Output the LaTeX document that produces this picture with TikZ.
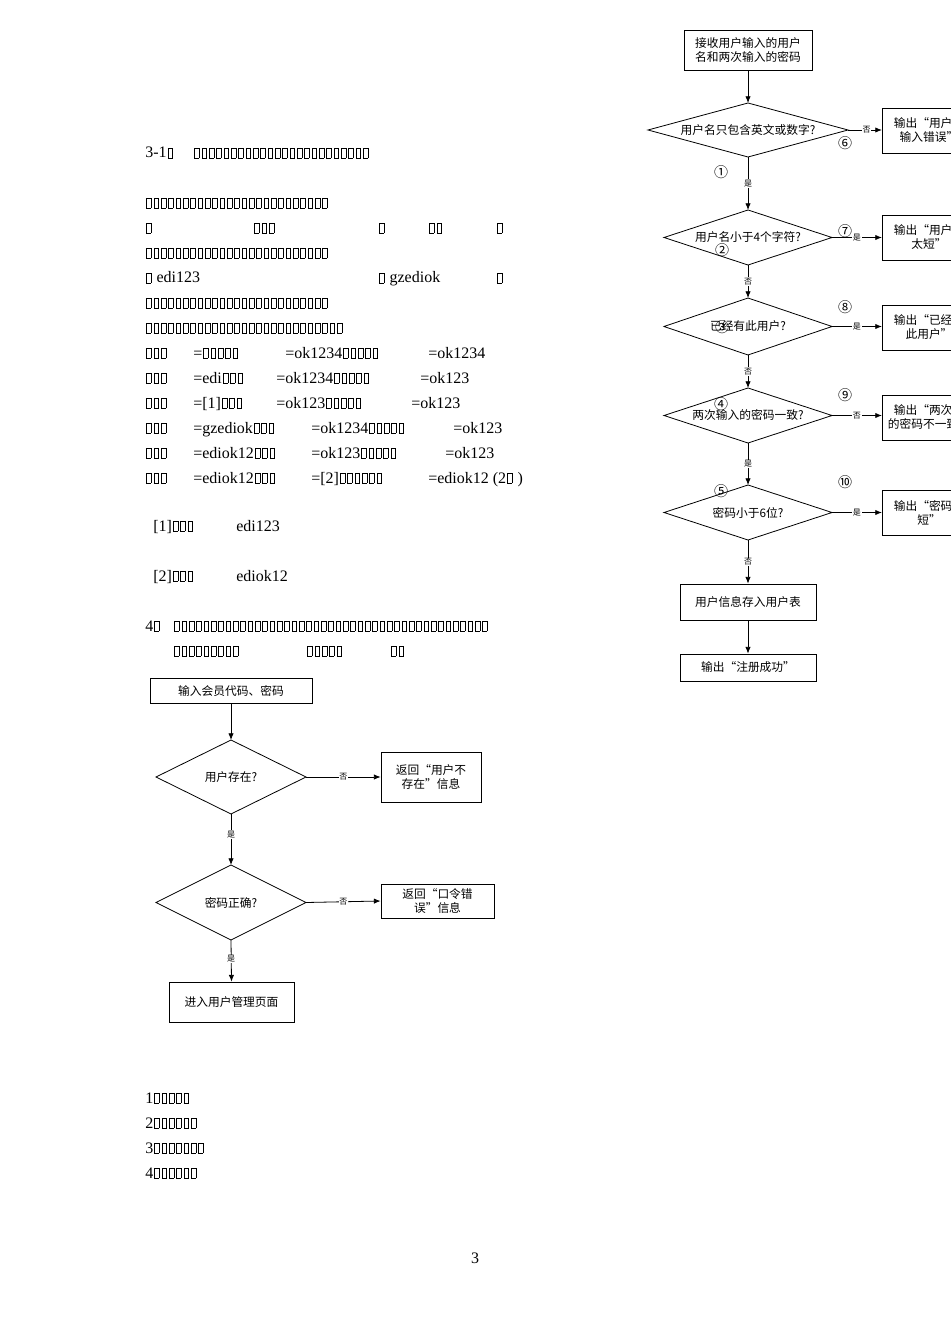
\documentclass[tikz,border=0pt]{standalone}
\usepackage{fontspec}
\setmainfont{Liberation Serif}
\newfontfamily\cjk{Noto Sans CJK SC}
\usetikzlibrary{arrows.meta}
\newcommand\tofu{\kern0.9pt\begingroup\setlength\fboxsep{0pt}\setlength\fboxrule{0.35pt}\fbox{\rule{0pt}{7.5pt}\kern3pt}\endgroup\kern0.9pt}
\newcommand\tofus[1]{\foreach\i in{1,...,#1}{\tofu}}
\newcommand\mydia[6]{%
 \coordinate (#1n) at (#2,{#3-#5});\coordinate (#1s) at (#2,{#3+#5});
 \coordinate (#1w) at ({#2-#4},#3);\coordinate (#1e) at ({#2+#4},#3);
 \draw[ln] (#1n)--(#1e)--(#1s)--(#1w)--cycle;
 \node[ft] (#1) at (#2,#3) {#6};}
\begin{document}
\begin{tikzpicture}[x=0.75pt,y=-0.75pt,
 tx/.style={anchor=base west,inner sep=0pt,font=\fontsize{12}{14}\selectfont},
 ft/.style={font=\cjk\fontsize{8.8}{10.5}\selectfont,inner sep=0pt,align=center},
 ln/.style={line width=0.6pt},
 bx/.style={draw,line width=0.6pt,font=\cjk\fontsize{8.8}{10.5}\selectfont,inner sep=0pt,align=center},
 arr/.style={ln,-{Latex[length=5pt,width=4pt]}},
 lbl/.style={fill=white,font=\cjk\fontsize{6}{7}\selectfont,inner sep=0.5pt},
 cn/.style={font=\cjk\fontsize{10.5}{10.5}\selectfont,inner sep=0pt}]
\useasboundingbox[fill=white] (0,0) rectangle (950,1344);
% ---- text block
\node[tx] (t1) at (145,158) {3-1\tofu};
\node[tx] (t1b) at (193,158) {\tofus{24}};
\node[tx] (t2) at (145,208) {\tofus{25}};
\node[tx] (t3a) at (145,233) {\tofus{1}};
\node[tx] (t3b) at (253,233) {\tofus{3}};
\node[tx] (t3c) at (378,233) {\tofus{1}};
\node[tx] (t3d) at (428,233) {\tofus{2}};
\node[tx] (t3e) at (496,233) {\tofus{1}};
\node[tx] (t4) at (145,258) {\tofus{25}};
\node[tx] (t5a) at (145,283) {\tofu\ edi123};
\node[tx] (t5b) at (378,283) {\tofu\ gzediok};
\node[tx] (t5c) at (496,283) {\tofu};
\node[tx] (t6) at (145,308) {\tofus{25}};
\node[tx] (t7) at (145,333) {\tofus{27}};
\foreach \yy in {358,383,408,433,458,483}{\node[tx] at (145,\yy) {\tofus{3}};}
\node[tx] at (193,358) {=\tofus{5}};
\node[tx] at (285,358) {=ok1234\tofus{5}};
\node[tx] at (428,358) {=ok1234};
\node[tx] at (193,383) {=edi\tofus{3}};
\node[tx] at (276,383) {=ok1234\tofus{5}};
\node[tx] at (420,383) {=ok123};
\node[tx] at (193,408) {=[1]\tofus{3}};
\node[tx] at (276,408) {=ok123\tofus{5}};
\node[tx] at (411,408) {=ok123};
\node[tx] at (193,433) {=gzediok\tofus{3}};
\node[tx] at (311,433) {=ok1234\tofus{5}};
\node[tx] at (453,433) {=ok123};
\node[tx] at (193,458) {=ediok12\tofus{3}};
\node[tx] at (311,458) {=ok123\tofus{5}};
\node[tx] at (445,458) {=ok123};
\node[tx] at (193,483) {=ediok12\tofus{3}};
\node[tx] at (311,483) {=[2]\tofus{6}};
\node[tx] at (428,483) {=ediok12 (2\tofu\ )};
\node[tx] at (153,531) {[1]\tofus{3}};
\node[tx] at (236,531) {edi123};
\node[tx] at (153,581) {[2]\tofus{3}};
\node[tx] at (236,581) {ediok12};
\node[tx] at (145,631) {4\tofu};
\node[tx] at (173,631) {\tofus{43}};
\node[tx] at (173,656) {\tofus{9}};
\node[tx] at (306,656) {\tofus{5}};
\node[tx] at (390,656) {\tofus{2}};
\node[tx] at (145,1103) {1\tofus{5}};
\node[tx] at (145,1128) {2\tofus{6}};
\node[tx] at (145,1153) {3\tofus{7}};
\node[tx] at (145,1178) {4\tofus{6}};
\node[tx,anchor=base] at (475,1263) {3};
% ---- left flowchart
\node[bx,minimum width=121.5pt,minimum height=18.75pt] (a0) at (231,690.5) {输入会员代码、密码};
\mydia{ad1}{231}{777}{75}{37}{用户存在?}
\mydia{ad2}{231}{902.5}{75}{37.5}{密码正确?}
\node[bx,minimum width=75pt,minimum height=37.5pt] (ab1) at (431,777) {返回“用户不\\存在”信息};
\node[bx,minimum width=84.75pt,minimum height=25.5pt] (ab2) at (437.5,901) {返回“口令错\\误”信息};
\node[bx,minimum width=93.75pt,minimum height=30pt] (ab3) at (231.5,1002) {进入用户管理页面};
\draw[arr] (a0.south) -- (ad1n);
\draw[arr] (ad1s) -- node[lbl,pos=0.4]{是} (ad2n);
\draw[arr] (ad2s) -- node[lbl,pos=0.45]{是} (ab3.north);
\draw[arr] (ad1e) -- node[lbl,pos=0.5]{否} (ab1.west);
\draw[arr] (ad2e) -- node[lbl,pos=0.5]{否} (ab2.west);
% ---- right flowchart
\node[bx,minimum width=96pt,minimum height=30pt] (r0) at (748,50) {接收用户输入的用户\\名和两次输入的密码};
\mydia{rd1}{748}{130}{100}{27}{用户名只包含英文或数字?}
\mydia{rd2}{748}{237.5}{84}{27.5}{用户名小于4个字符?}
\mydia{rd3}{748}{326.5}{84}{28.5}{已经有此用户?}
\mydia{rd4}{748}{415.5}{84}{27.5}{两次输入的密码一致?}
\mydia{rd5}{748}{512.5}{84}{27.5}{密码小于6位?}
\node[bx,minimum width=102pt,minimum height=27pt] (r6) at (748,602) {用户信息存入用户表};
\node[bx,minimum width=102pt,minimum height=20.25pt] (r7) at (748,667.5) {输出“注册成功”};
\node[bx,minimum width=70pt,minimum height=33.75pt] (o1) at (929,130.5) {输出“用户名\\输入错误”};
\node[bx,minimum width=70pt,minimum height=33.75pt] (o2) at (929,237.5) {输出“用户名\\太短”};
\node[bx,minimum width=70pt,minimum height=33.75pt] (o3) at (929,327.5) {输出“已经有\\此用户”};
\node[bx,minimum width=70pt,minimum height=33.75pt] (o4) at (929,417.5) {输出“两次输\\的密码不一致”};
\node[bx,minimum width=70pt,minimum height=33.75pt] (o5) at (929,512.5) {输出“密码太\\短”};
\draw[arr] (r0.south) -- (rd1n);
\draw[arr] (rd1s) -- node[lbl,pos=0.5]{是} (rd2n);
\draw[arr] (rd2s) -- node[lbl,pos=0.5]{否} (rd3n);
\draw[arr] (rd3s) -- node[lbl,pos=0.5]{否} (rd4n);
\draw[arr] (rd4s) -- node[lbl,pos=0.5]{是} (rd5n);
\draw[arr] (rd5s) -- node[lbl,pos=0.5]{否} (r6.north);
\draw[arr] (r6.south) -- (r7.north);
\draw[arr] (rd1e) -- node[lbl,pos=0.55]{否} (o1.west|-rd1e);
\draw[arr] (rd2e) -- node[lbl,pos=0.5]{是} (o2.west|-rd2e);
\draw[arr] (rd3e) -- node[lbl,pos=0.5]{是} (o3.west|-rd3e);
\draw[arr] (rd4e) -- node[lbl,pos=0.5]{否} (o4.west|-rd4e);
\draw[arr] (rd5e) -- node[lbl,pos=0.5]{是} (o5.west|-rd5e);
\node[cn] (c1) at (721,172) {①};
\node[cn] (c2) at (722,250) {②};
\node[cn] (c3) at (722,327) {③};
\node[cn] (c4) at (721,404) {④};
\node[cn] (c5) at (721,491) {⑤};
\node[cn] (c6) at (845,143) {⑥};
\node[cn] (c7) at (845,231) {⑦};
\node[cn] (c8) at (845,307) {⑧};
\node[cn] (c9) at (845,395) {⑨};
\node[cn] (c10) at (845,482) {⑩};
\end{tikzpicture}
\end{document}
